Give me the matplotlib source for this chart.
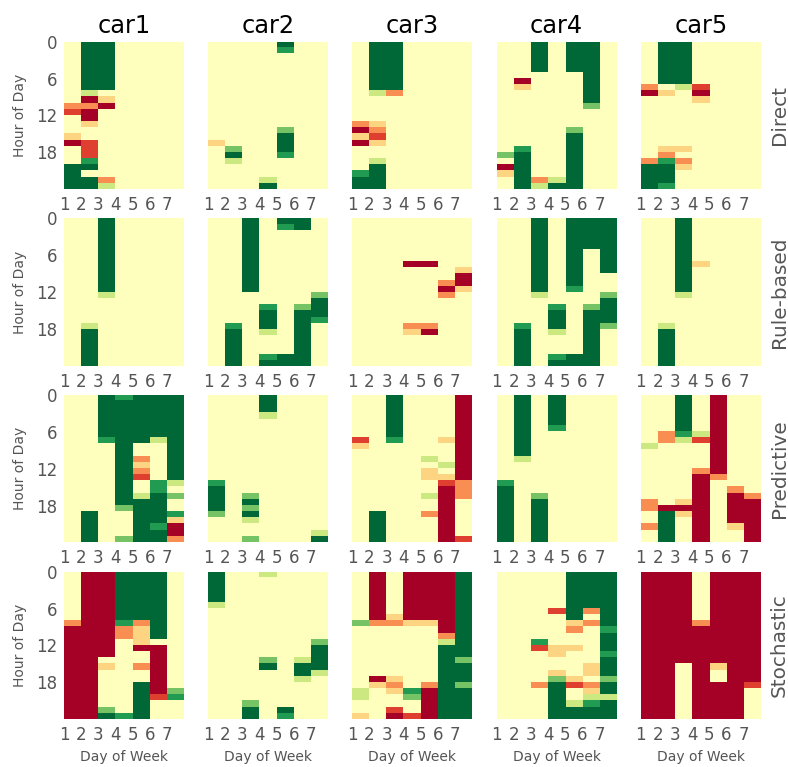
import numpy as np
import matplotlib
matplotlib.use("Agg")
import matplotlib.pyplot as plt

cars = ["car1", "car2", "car3", "car4", "car5"]
methods = ["Direct", "Rule-based", "Predictive", "Stochastic"]
day_labels = ["1", "2", "3", "4", "5", "6", "7"]
hour_ticks = [0, 6, 12, 18]

# cell codes -> value (-1 .. 1)
levels = {"R": -1.0, "r": -0.75, "o": -0.5, "l": -0.25, ".": 0.0,
          "g": 0.25, "m": 0.55, "G": 0.78, "D": 1.0}

# each panel: 24 rows (hour 0..23), 7 chars (day 1..7)
direct_car1 = [".DD....", ".DD....", ".DD....", ".DD....", ".DD....", ".DD....",
               ".DD....", ".DD....", ".g.....", ".Rl....", "ooR....", "rR.....",
               ".R.....", ".l.....", ".......", "l......", "Rr.....", ".r.....",
               ".r.....", ".G.....", "DD.....", "D......", "DDo....", "DDg...."]
direct_car2 = ["....D..", "....G..", ".......", ".......", ".......", ".......",
               ".......", ".......", ".......", ".......", ".......", ".......",
               ".......", ".......", "....m..", "....D..", "l...D..", ".m..D..",
               ".D..G..", ".g.....", ".......", ".......", "...g...", "...D..."]
direct_car3 = [".DD....", ".DD....", ".DD....", ".DD....", ".DD....", ".DD....",
               ".DD....", ".DD....", ".go....", ".......", ".......", ".......",
               ".......", "ol.....", "Ro.....", "lr.....", "Rl.....", ".......",
               ".......", ".g.....", ".D.....", "GD.....", "DD.....", "DD....."]
direct_car4 = ["..D.DD.", "..D.DD.", "..D.DD.", "..D.DD.", "..D.DD.", ".....D.",
               ".R...D.", ".l...D.", ".....D.", ".....D.", ".....m.", ".......",
               ".......", ".......", "....m..", "....D..", "....D..", ".G..D..",
               "mD..D..", ".D..D..", "RD..D..", "lD..D..", ".DogD..", ".DgDD.."]
direct_car5 = [".DD....", ".DD....", ".DD....", ".DD....", ".DD....", ".DD....",
               ".DD....", "o.gr...", "Rl.R...", "...l...", ".......", ".......",
               ".......", ".......", ".......", ".......", ".......", ".ll....",
               ".o.....", "oGo....", "DDl....", "DD.....", "DD.....", "DG....."]

rule_car1 = ["..D....", "..D....", "..D....", "..D....", "..D....", "..D....",
             "..D....", "..D....", "..D....", "..D....", "..D....", "..D....",
             "..g....", ".......", ".......", ".......", ".......", ".g.....",
             ".D.....", ".D.....", ".D.....", ".D.....", ".D.....", ".D....."]
rule_car2 = ["..D.DD.", "..D.GD.", "..D....", "..D....", "..D....", "..D....",
             "..D....", "..D....", "..D....", "..D....", "..D....", "..D....",
             "......m", "......D", "...G.mD", "...D.DD", "...D.DG", ".G.D.D.",
             ".D.g.D.", ".D...D.", ".D...D.", ".D...D.", ".D.GDD.", ".D.DDD."]
rule_car3 = [".......", ".......", ".......", ".......", ".......", ".......",
             ".......", "...RR..", "......l", "......R", ".....oR", ".....Rl",
             ".....o.", ".......", ".......", ".......", ".......", "...oo..",
             "...lR..", ".......", ".......", ".......", ".......", "......."]
rule_car4 = ["..D.DDD", "..D.DDD", "..D.DDD", "..D.DDD", "..D.DDD", "..D.D.D",
             "..D.D.D", "..D.D.D", "..D.D.D", "..D.D..", "..D.D..", "..D.G..",
             "..g...m", "......D", "...G.mD", "...D.DD", "...D.DD", ".G.D.Dm",
             ".D.g.D.", ".D...D.", ".D...D.", ".D...D.", ".D.GDD.", ".D.DDD."]
rule_car5 = ["..D....", "..D....", "..D....", "..D....", "..D....", "..D....",
             "..D....", "..Dl...", "..D....", "..D....", "..D....", "..D....",
             "..g....", ".......", ".......", ".......", ".......", ".g.....",
             ".D.....", ".D.....", ".D.....", ".D.....", ".D.....", ".D....."]

pred_car1 = ["..DGDDD", "..DDDDD", "..DDDDD", "..DDDDD", "..DDDDD", "..DDDDD",
             "..DDDDD", "..GDDgD", "...D..D", "...D..D", "...Do.D", "...Dl.D",
             "...Do.D", "...Dr.D", "...D.Gg", "...D.G.", "...DgDm", "...DDD.",
             "...mDD.", ".D..DDG", ".D..DDl", ".D..DGR", ".D..DDR", ".D.mDDo"]
pred_car2 = ["...D...", "...D...", "...D...", "...g...", ".......", ".......",
             ".......", ".......", ".......", ".......", ".......", ".......",
             ".......", ".......", "G......", "D......", "D.m....", "D.D....",
             "D.m....", "m.D....", "..g....", ".......", "......g", "..m...D"]
pred_car3 = ["..D...R", "..D...R", "..D...R", "..D...R", "..D...R", "..D...R",
             "..D...R", "r.G..lR", "l.....R", "......R", "....g.R", ".....gR",
             "....l.R", "....llR", ".....ro", ".....Ro", "....gRo", ".....R.",
             ".....R.", ".D..oR.", ".D...R.", ".D...R.", ".D...R.", ".D...Rr"]
pred_car4 = [".D.D...", ".D.D...", ".D.D...", ".D.D...", ".D.D...", ".D.G...",
             ".D.....", ".D.....", ".D.....", ".D.....", ".g.....", ".......",
             ".......", ".......", "G......", "D......", "D.m....", "D.D....",
             "D.D....", "D.D....", "D.D....", "D.D....", "D.D....", "D.D...."]
pred_car5 = ["..D.R..", "..D.R..", "..D.R..", "..D.R..", "..D.R..", "..D.R..",
             ".oGgR..", ".ogrR..", "g...R..", "....R..", "....R..", "....R..",
             "...oR..", "...Ro..", "...R...", "...R.o.", "...R.Ro", "o.lR.RR",
             "oRRR.RR", ".DlR.RR", ".D.R.RR", "oD.R.lR", ".D.R..R", ".D.R..R"]

stoch_car1 = [".RRDDD.", ".RRDDD.", ".RRDDD.", ".RRDDD.", ".RRDDD.", ".RRDDD.",
              ".RRDDD.", ".RRDDD.", "oRRGoD.", "RRRolD.", "RRRolD.", "RRR.l..",
              "RRR.RR.", "RRR..R.", "RR...R.", "RRl.oR.", "RR...R.", "RR...R.",
              "RR..DR.", "RR..DRm", "RR..DrG", "RR..D..", "RRm.D..", "RRDGD.."]
stoch_car2 = ["D..g...", "D......", "D......", "D......", "D......", "g......",
              ".......", ".......", ".......", ".......", ".......", "......m",
              "......D", "......D", "...m.gD", "...D.DD", ".....Dg", ".....g.",
              ".......", ".......", ".......", "..m....", "..D.D..", "..D.G.."]
stoch_car3 = [".R.RRRD", ".R.RRRD", ".R.RRRD", ".R.RRRD", ".R.RRRD", ".R.RRRD",
              ".R.RRRD", ".RlRRRD", "moollRD", ".....RD", ".....oD", ".....gD",
              ".....DD", ".....DD", ".....Dm", ".....DD", ".....DD", ".Rl..DD",
              ".lo.oDm", "g.lGRDD", "g..mRDD", "....RDD", "..r.RDD", "l.RrRDD"]
stoch_car4 = ["....DDD", "....DDD", "....DDD", "....DDD", "....DDD", "....DDD",
              "...rDoD", "....D.D", "....loD", "....o.G", "......D", "..G...D",
              "..rll.D", "...l..G", "......D", ".....lD", "...l.lD", "...ml.m",
              "..oDroD", "...D.lD", "...D.gg", "...DgGD", "...DDDD", "...DDDD"]
stoch_car5 = ["RRR.RRR", "RRR.RRR", "RRR.RRR", "RRR.RRR", "RRR.RRR", "RRR.RRR",
              "RRR.RRR", "RRR.RRR", "RRRoRRR", "RRRRRRR", "RRRRRRR", "RRRRRRR",
              "RRRRRRR", "RRRRRRR", "RRRRRRR", "RR.RlRR", "RR.R.RR", "RR.R.RR",
              "RR.RRRr", "RR.RRR.", "RR.RRR.", "RR.RRR.", "RR.RRR.", "RR.RRR."]

panels = [
    [direct_car1, direct_car2, direct_car3, direct_car4, direct_car5],
    [rule_car1, rule_car2, rule_car3, rule_car4, rule_car5],
    [pred_car1, pred_car2, pred_car3, pred_car4, pred_car5],
    [stoch_car1, stoch_car2, stoch_car3, stoch_car4, stoch_car5],
]


def to_grid(rows):
    return np.array([[levels[c] for c in r] for r in rows])


W, H = 788, 767
fig = plt.figure(figsize=(W / 100, H / 100), dpi=100)
grey = "#555555"

for i, method in enumerate(methods):
    for j, car in enumerate(cars):
        left = 64 + 144.2 * j
        top = 41.7 + 176.7 * i
        ax = fig.add_axes([left / W, 1 - (top + 147.3) / H, 120 / W, 147.3 / H])
        ax.imshow(to_grid(panels[i][j]), cmap="RdYlGn", vmin=-1, vmax=1,
                  aspect="auto", interpolation="nearest", extent=(0, 7, 24, 0))
        for s in ax.spines.values():
            s.set_visible(False)
        ax.set_xticks(range(7))
        ax.set_xticklabels(day_labels)
        ax.tick_params(length=0, labelsize=12, colors=grey, pad=5)
        if j == 0:
            ax.set_yticks(hour_ticks)
            ax.set_yticklabels([str(h) for h in hour_ticks])
            ax.set_ylabel("Hour of Day", fontsize=10, color=grey, labelpad=6)
        else:
            ax.set_yticks([])
        if i == 0:
            ax.set_title(car, fontsize=17.28, color="black")
        if i == 3:
            ax.set_xlabel("Day of Week", fontsize=10, color=grey, labelpad=4.5)
        if j == 4:
            ax.text(1.153, 0.5, method, rotation=90, ha="center", va="center",
                    fontsize=14.4, color=grey, transform=ax.transAxes)

fig.savefig("out.png", dpi=100)
